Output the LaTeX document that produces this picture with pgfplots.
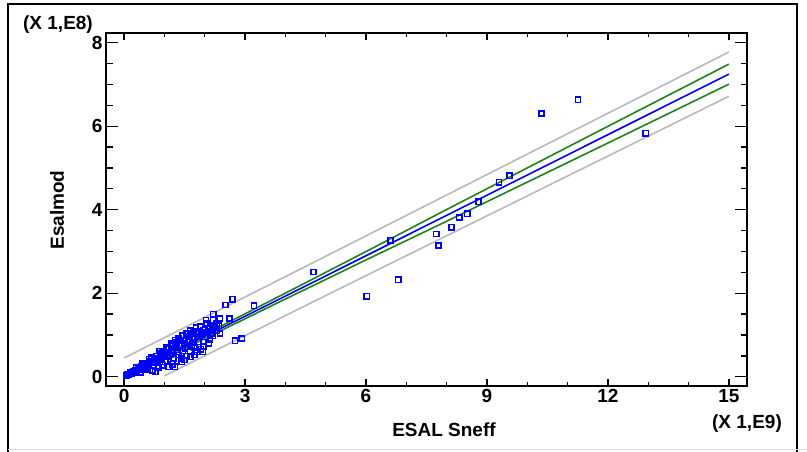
\documentclass[border=0pt]{standalone}
\usepackage{pgfplots}
\pgfplotsset{compat=1.18}
\usepackage{fontspec}
\setmainfont{Liberation Sans}
\definecolor{fitblue}{RGB}{0,0,255}
\definecolor{confgreen}{RGB}{30,130,30}
\definecolor{predgray}{RGB}{185,185,185}
\newcommand{\lbl}{\fontsize{19}{22}\selectfont\bfseries}
\begin{document}
\begin{tikzpicture}[x=1pt,y=1pt]
\useasboundingbox (0,0) rectangle (807,452);
\draw[line width=1.5pt] (8,0) -- (8,448) -- (797,448) -- (797,0);
\draw[black!12, line width=1pt] (8,2.5) -- (807,2.5);
\begin{axis}[
  at={(106pt,66pt)}, anchor=south west,
  width=641pt, height=353pt, scale only axis,
  xmin=-0.45, xmax=15.45, ymin=-0.22, ymax=8.23,
  xtick={0,3,6,9,12,15}, minor x tick num=2,
  ytick=\empty,
  tick align=inside,
  major tick length=7pt, minor tick length=4pt,
  axis line style={line width=1.6pt},
  every tick/.style={black, line width=1.3pt},
  /pgf/number format/assume math mode=true,
  xticklabel style={font=\lbl},
]
\addplot[predgray, line width=1.6pt] coordinates {(0,0.45) (5,2.885) (10,5.33) (15,7.775)};
\addplot[predgray, line width=1.6pt] coordinates {(1.0,0.023) (5,1.945) (10,4.33) (15,6.715)};
\addplot[confgreen, line width=1.6pt] coordinates {(0,0.045) (2,1.016) (4,2.002) (6,2.998) (8,4.004) (10,5.00) (12,5.996) (15,7.485)};
\addplot[confgreen, line width=1.6pt] coordinates {(0,-0.045) (2,0.916) (4,1.862) (6,2.798) (8,3.724) (10,4.66) (12,5.596) (15,7.005)};
\addplot[fitblue, line width=1.6pt] coordinates {(0,0) (15,7.245)};
\addplot[only marks, mark=square, mark size=2.6pt, mark options={draw=fitblue, line width=1.6pt}] coordinates {
(0.05,0.03) (0.08,0.06) (0.12,0.05) (0.15,0.10) (0.18,0.08) (0.22,0.12) (0.25,0.10) (0.28,0.16)
(0.32,0.14) (0.35,0.20) (0.38,0.18) (0.42,0.24) (0.45,0.20) (0.48,0.28) (0.52,0.25) (0.56,0.33)
(0.60,0.30) (0.64,0.36) (0.70,0.34) (0.75,0.40) (0.80,0.50) (0.85,0.45) (0.90,0.55) (0.95,0.62)
(1.00,0.58) (1.05,0.70) (1.10,0.66) (1.16,0.80) (1.20,0.74) (1.26,0.88) (1.30,0.82) (1.35,0.92)
(1.40,0.86) (1.45,0.98) (1.49,0.88) (1.55,1.04) (1.60,0.96) (1.64,1.10) (1.72,1.08) (1.78,1.18)
(1.82,1.04) (1.88,1.20) (1.97,1.12) (2.05,1.28) (2.13,1.20) (2.21,1.36) (2.30,1.28)
(0.40,0.10) (0.55,0.18) (0.70,0.15) (0.77,0.12) (0.85,0.22) (0.95,0.28) (1.06,0.48) (1.10,0.24)
(1.20,0.30) (1.26,0.24) (1.35,0.52) (1.43,0.36) (1.43,0.44) (1.51,0.68) (1.55,0.50) (1.64,0.48)
(1.64,0.60) (1.68,0.76) (1.80,0.60) (1.84,0.84) (1.90,0.66) (1.97,0.72) (2.01,0.96) (2.13,0.88)
(2.20,0.98) (2.30,1.10) (2.38,1.04) (2.38,1.40) (2.61,1.40) (2.21,1.50) (2.03,1.36) (2.20,1.22)
(0.30,0.22) (0.45,0.32) (0.58,0.22) (0.62,0.42) (0.68,0.46) (0.72,0.28) (0.82,0.38) (0.88,0.62)
(0.92,0.42) (0.98,0.50) (1.02,0.36) (1.08,0.58) (1.14,0.52) (1.18,0.64) (1.22,0.44) (1.28,0.70)
(1.32,0.60) (1.38,0.76) (1.46,0.62) (1.50,0.80) (1.58,0.72) (1.62,0.86) (1.70,0.92) (1.75,0.70)
(1.86,0.96) (1.92,1.02) (2.00,1.06) (2.08,1.14) (2.16,1.04) (2.25,1.18) (2.35,1.22) (1.50,0.40)
(1.75,0.52) (1.95,0.60) (2.10,0.80)
(2.51,1.72) (2.69,1.86) (3.22,1.70) (2.75,0.86) (2.92,0.92)
(4.70,2.51) (6.02,1.93) (6.61,3.27) (6.80,2.32) (7.74,3.42) (7.80,3.14) (8.12,3.58) (8.31,3.81)
(8.51,3.90) (8.79,4.19) (9.30,4.66) (9.56,4.81) (10.35,6.30) (11.26,6.63) (12.94,5.83)
};
\end{axis}
\begin{axis}[
  at={(106pt,66pt)}, anchor=south west,
  width=641pt, height=353pt, scale only axis,
  xmin=-0.45, xmax=15.45, ymin=-0.22, ymax=8.23,
  xtick=\empty,
  ytick={0,2,4,6,8}, minor y tick num=3,
  tick align=inside,
  major tick length=12pt, minor tick length=6.5pt,
  axis line style={draw=none},
  every tick/.style={black, line width=1.3pt},
  /pgf/number format/assume math mode=true,
  yticklabel style={font=\lbl},
]
\end{axis}
\node[rotate=90, font=\lbl] at (57,242) {Esalmod};
\node[font=\lbl] at (444,22) {ESAL Sneff};
\node[font=\lbl] at (58,427) {(X 1,E8)};
\node[font=\lbl] at (747,28) {(X 1,E9)};
\end{tikzpicture}
\end{document}
